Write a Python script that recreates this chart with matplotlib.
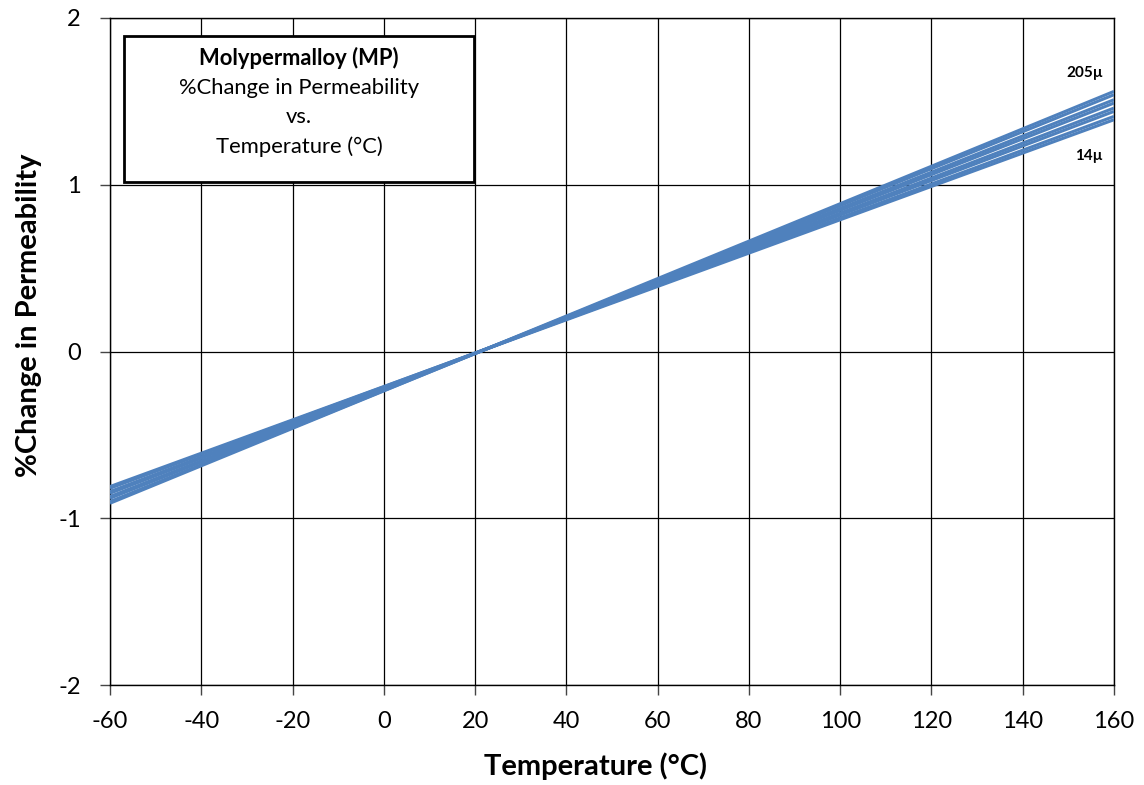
import matplotlib
matplotlib.use("Agg")
import matplotlib.pyplot as plt
from matplotlib.patches import Rectangle

plt.rcParams['font.family'] = ['Lato', 'DejaVu Sans']
plt.rcParams['axes.unicode_minus'] = False

# temperature end points (deg C)
temps = [-60, 160]
# permeability grades, lowest to highest
grades = [14, 26, 60, 125, 147, 160, 173, 205]
# % change at -60 C and at 160 C for each grade
change_cold = [-0.81, -0.82, -0.84, -0.85, -0.87, -0.88, -0.90, -0.91]
change_hot = [1.39, 1.41, 1.44, 1.46, 1.49, 1.51, 1.54, 1.56]

xticks = list(range(-60, 161, 20))
yticks = [-2, -1, 0, 1, 2]

fig = plt.figure(figsize=(11.44, 7.85), dpi=100)
ax = fig.add_axes([110/1144, 100/785, 1004/1144, 667/785])

for g, lo, hi in zip(grades, change_cold, change_hot):
    ax.plot(temps, [lo, hi], color='#4f81bd', lw=2.2, solid_capstyle='butt', zorder=3)

ax.set_xlim(-60, 160)
ax.set_ylim(-2, 2)
ax.set_xticks(xticks)
ax.set_yticks(yticks)
ax.grid(True, color='black', lw=0.9)
ax.tick_params(axis='x', labelsize=17, length=7, width=1, color='#444444', pad=12)
ax.tick_params(axis='y', labelsize=17, length=7, width=1, color='#444444', pad=14)
for s in ax.spines.values():
    s.set_color('black')
    s.set_linewidth(1.0)

ax.set_xlabel('Temperature (°C)', fontsize=21, fontweight='bold')
ax.xaxis.set_label_coords((595-110)/1004, -(752-685)/667)
ax.set_ylabel('%Change in Permeability', fontsize=21, fontweight='bold')
ax.yaxis.set_label_coords(-68/1004, (685-315)/667)

# title box
bx0, by0 = (124-110)/1004, (685-182)/667
bw, bh = 350/1004, 146/667
ax.add_patch(Rectangle((bx0, by0), bw, bh, transform=ax.transAxes,
                       facecolor='white', edgecolor='black', lw=2, zorder=5))
cx = bx0 + bw/2
ax.text(cx, (685-58)/667, 'Molypermalloy (MP)', transform=ax.transAxes,
        ha='center', va='center', fontsize=15.8, fontweight='bold', zorder=6)
ax.text(cx, (685-88)/667, '%Change in Permeability', transform=ax.transAxes,
        ha='center', va='center', fontsize=15.8, zorder=6)
ax.text(cx, (685-117)/667, 'vs.', transform=ax.transAxes,
        ha='center', va='center', fontsize=15.8, zorder=6)
ax.text(cx, (685-147)/667, 'Temperature (°C)', transform=ax.transAxes,
        ha='center', va='center', fontsize=15.8, zorder=6)

ax.text(153.5, 1.67, f'{grades[-1]}µ', ha='center', va='center', fontsize=11, fontweight='bold')
ax.text(154.5, 1.17, f'{grades[0]}µ', ha='center', va='center', fontsize=11, fontweight='bold')

fig.savefig('out.png', dpi=100)
